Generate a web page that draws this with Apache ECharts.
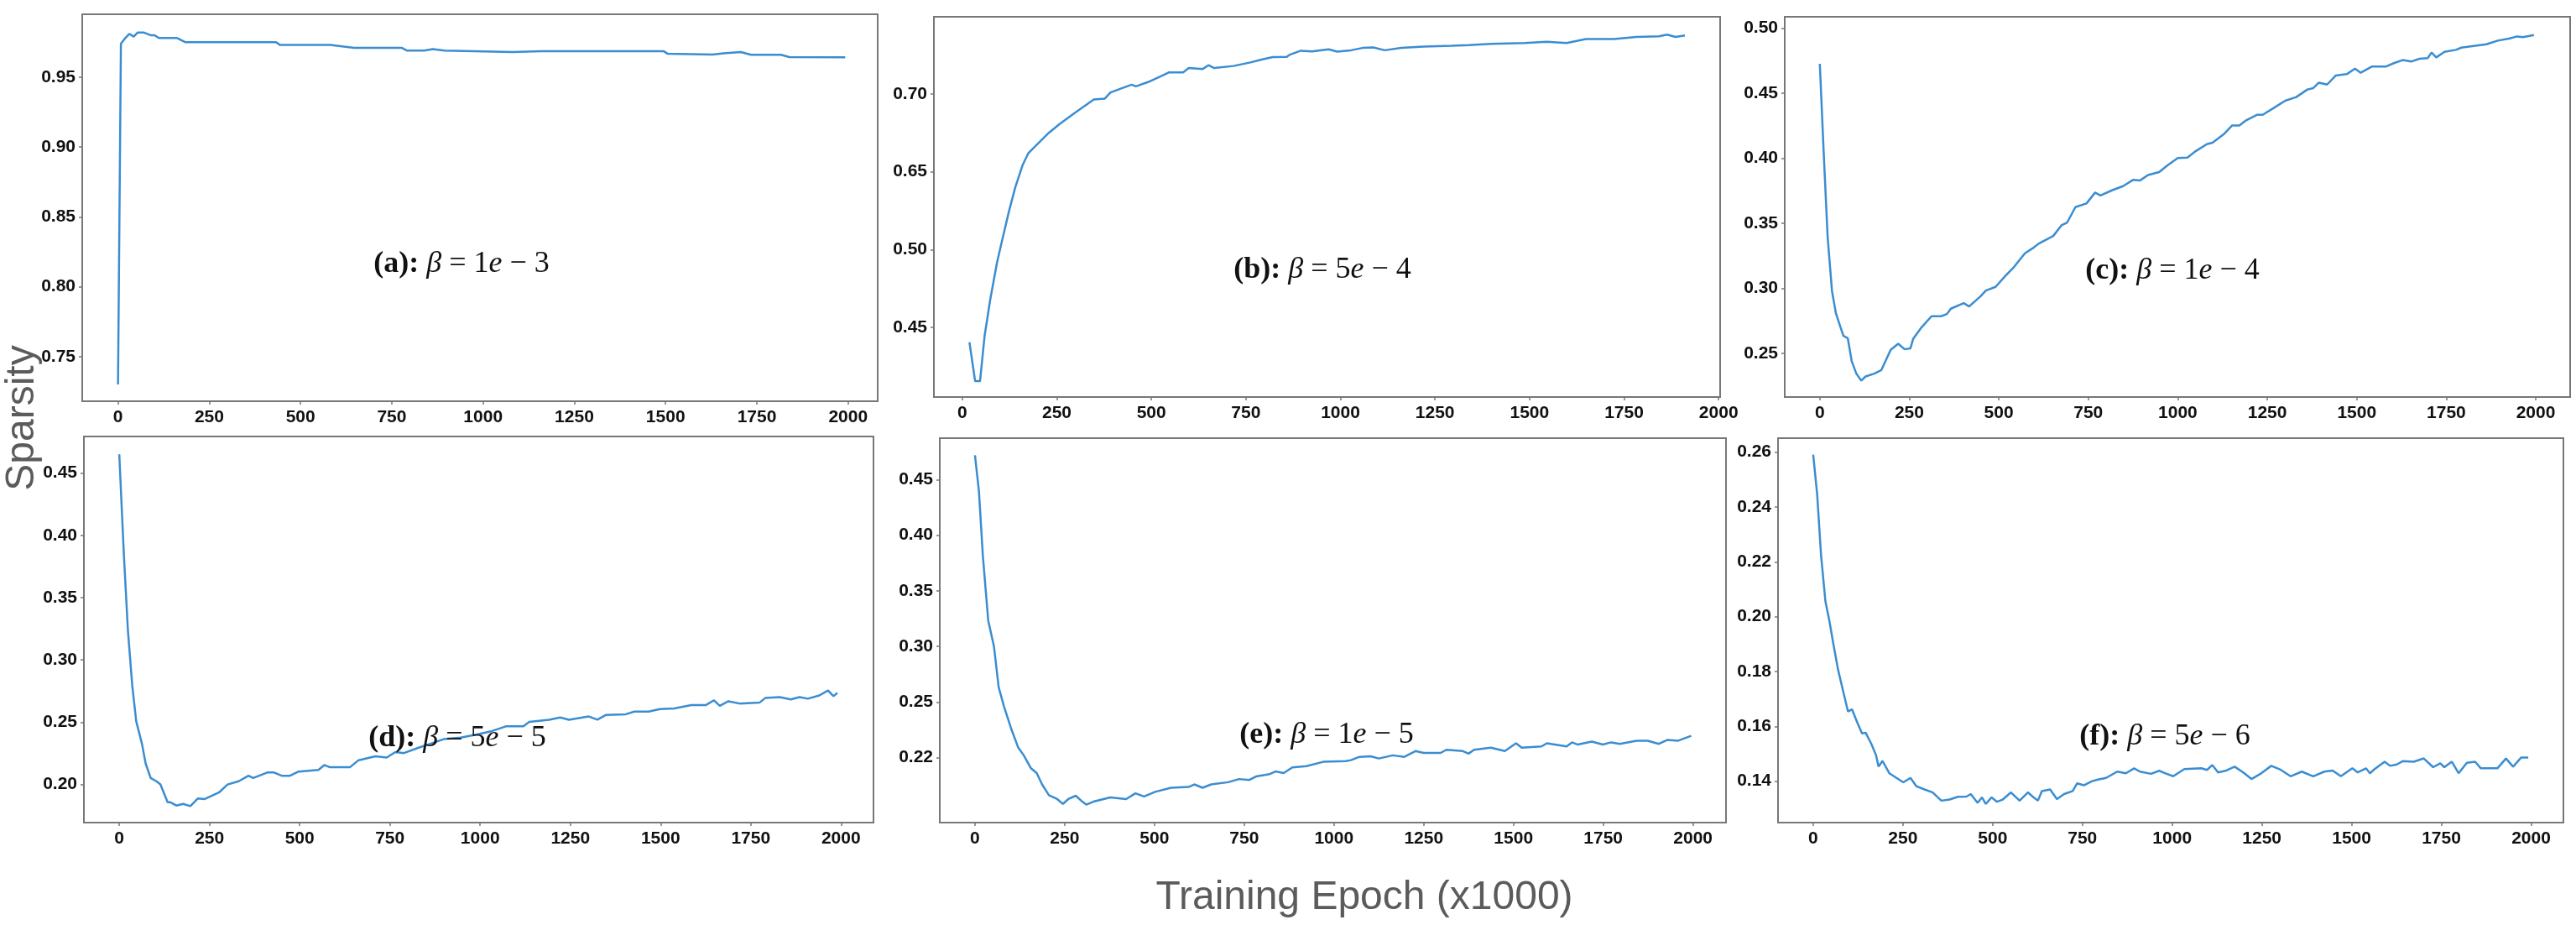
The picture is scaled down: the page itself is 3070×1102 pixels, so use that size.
<!DOCTYPE html>
<html>
<head>
<meta charset="utf-8">
<title>Sparsity vs training epoch</title>
<script src="https://cdn.jsdelivr.net/npm/echarts@6/dist/echarts.min.js"></script>
<style>
  html, body { margin: 0; padding: 0; background: #fff; }
  #chart { width: 3070px; height: 1102px; }
</style>
</head>
<body>
<div id="chart"></div>
<script>
// --- Data ---

const xTicks = [0, 250, 500, 750, 1000, 1250, 1500, 1750, 2000];

// (a) beta = 1e-3
const epochA = [0, 8, 20, 31, 43, 54, 70, 89, 100, 112, 162, 185, 433, 444, 581, 647, 777, 792, 839, 862, 894, 1081, 1159, 1495, 1506, 1628, 1659, 1706, 1734, 1816, 1839, 1992];
const sparsityA = [0.730, 0.974, 0.978, 0.981, 0.979, 0.982, 0.982, 0.980, 0.980, 0.978, 0.978, 0.975, 0.975, 0.973, 0.973, 0.971, 0.971, 0.969, 0.969, 0.970, 0.969, 0.968, 0.9685, 0.9685, 0.9667, 0.9662, 0.967, 0.968, 0.966, 0.966, 0.9644, 0.9642];
const yTicksA = [0.75, 0.80, 0.85, 0.90, 0.95];

// (b) beta = 5e-4 (the printed axis is not linear: 0.45, 0.50, 0.65, 0.70 are evenly spaced)
const epochB = [19, 34, 47, 59, 74, 92, 104, 123, 140, 160, 175, 200, 229, 256, 296, 348, 377, 392, 422, 448, 459, 496, 525, 547, 584, 599, 636, 651, 666, 717, 762, 791, 821, 858, 865, 895, 925, 969, 991, 1028, 1058, 1087, 1117, 1161, 1220, 1294, 1339, 1398, 1487, 1546, 1598, 1649, 1723, 1783, 1842, 1864, 1886, 1911];
const sparsityB = [0.4405, 0.4155, 0.4155, 0.4445, 0.468, 0.4918, 0.5134, 0.5723, 0.6195, 0.6545, 0.662, 0.668, 0.675, 0.6804, 0.6875, 0.6964, 0.697, 0.7009, 0.7036, 0.7059, 0.7048, 0.708, 0.7113, 0.7138, 0.7138, 0.7166, 0.716, 0.7184, 0.7166, 0.7179, 0.7202, 0.722, 0.7236, 0.7238, 0.725, 0.7277, 0.7273, 0.7286, 0.7271, 0.728, 0.7295, 0.7298, 0.728, 0.7295, 0.7304, 0.7309, 0.7313, 0.7321, 0.7327, 0.7334, 0.7327, 0.7352, 0.7352, 0.7366, 0.737, 0.738, 0.7366, 0.7375];
const yTicksB = [0.45, 0.50, 0.65, 0.70];

// (c) beta = 1e-4
const epochC = [0, 11, 22, 34, 45, 58, 66, 78, 89, 102, 116, 128, 152, 172, 198, 219, 237, 253, 261, 284, 312, 339, 355, 366, 402, 417, 448, 464, 491, 519, 542, 573, 597, 612, 652, 675, 691, 714, 745, 769, 784, 816, 847, 875, 894, 917, 948, 972, 1000, 1027, 1050, 1081, 1097, 1128, 1152, 1172, 1191, 1222, 1237, 1269, 1300, 1331, 1362, 1378, 1394, 1417, 1441, 1472, 1495, 1511, 1542, 1581, 1605, 1628, 1652, 1675, 1698, 1709, 1722, 1745, 1777, 1792, 1831, 1862, 1894, 1925, 1948, 1964, 1995];
const sparsityC = [0.4725, 0.4032, 0.3386, 0.2978, 0.2806, 0.2698, 0.2633, 0.2616, 0.2440, 0.2343, 0.2289, 0.2321, 0.2343, 0.2371, 0.2526, 0.2573, 0.2530, 0.2537, 0.2612, 0.2698, 0.2784, 0.2784, 0.2801, 0.2842, 0.2885, 0.2859, 0.2935, 0.2982, 0.3010, 0.3096, 0.3161, 0.3268, 0.3311, 0.3343, 0.3401, 0.3483, 0.3505, 0.3623, 0.3651, 0.3735, 0.3713, 0.3752, 0.3784, 0.3832, 0.3827, 0.3870, 0.3892, 0.3946, 0.4000, 0.4004, 0.4053, 0.4107, 0.4118, 0.4182, 0.4251, 0.4251, 0.4290, 0.4333, 0.4333, 0.4387, 0.4441, 0.4469, 0.4527, 0.4537, 0.4580, 0.4565, 0.4634, 0.4645, 0.4688, 0.4656, 0.4703, 0.4703, 0.4731, 0.4753, 0.4742, 0.4763, 0.4768, 0.4811, 0.4774, 0.4817, 0.4832, 0.4849, 0.4864, 0.4875, 0.4903, 0.4918, 0.4935, 0.4929, 0.4946];
const yTicksC = [0.25, 0.30, 0.35, 0.40, 0.45, 0.50];

// (d) beta = 5e-5
const epochD = [0, 13, 24, 36, 47, 63, 73, 87, 103, 114, 134, 142, 158, 177, 197, 218, 237, 276, 300, 331, 358, 371, 410, 429, 450, 473, 497, 552, 568, 584, 639, 663, 710, 741, 765, 789, 828, 860, 899, 946, 994, 1033, 1073, 1120, 1136, 1191, 1222, 1246, 1301, 1325, 1349, 1404, 1427, 1467, 1498, 1538, 1585, 1625, 1648, 1664, 1688, 1719, 1774, 1790, 1830, 1861, 1885, 1908, 1940, 1964, 1979, 1990];
const sparsityD = [0.4651, 0.3832, 0.3234, 0.2793, 0.2507, 0.2325, 0.2169, 0.2052, 0.2026, 0.2000, 0.1857, 0.1857, 0.1831, 0.1844, 0.1826, 0.1888, 0.1883, 0.1935, 0.2000, 0.2026, 0.2070, 0.2052, 0.2096, 0.2096, 0.2070, 0.2070, 0.2104, 0.2117, 0.2156, 0.2138, 0.2138, 0.2195, 0.2226, 0.2216, 0.2260, 0.2252, 0.2294, 0.2325, 0.2364, 0.2377, 0.2403, 0.2429, 0.2468, 0.2468, 0.2502, 0.2520, 0.2538, 0.2520, 0.2546, 0.2520, 0.2559, 0.2564, 0.2585, 0.2585, 0.2606, 0.2611, 0.2637, 0.2637, 0.2676, 0.2632, 0.2668, 0.2650, 0.2657, 0.2694, 0.2702, 0.2683, 0.2702, 0.2689, 0.2715, 0.2754, 0.2709, 0.2735];
const yTicksD = [0.20, 0.25, 0.30, 0.35, 0.40, 0.45];

// (e) beta = 1e-5 (bottom tick is printed 0.22, evenly spaced with the others)
const epochE = [0, 11, 22, 37, 53, 66, 81, 100, 120, 136, 156, 172, 187, 206, 229, 245, 260, 281, 296, 310, 330, 377, 421, 447, 471, 502, 546, 595, 611, 634, 658, 705, 736, 764, 783, 821, 837, 860, 884, 923, 970, 1032, 1047, 1071, 1102, 1125, 1164, 1196, 1227, 1250, 1297, 1313, 1359, 1375, 1390, 1437, 1476, 1507, 1523, 1578, 1593, 1648, 1663, 1679, 1718, 1749, 1772, 1796, 1843, 1874, 1905, 1928, 1959, 1995];
const sparsityE = [0.4720, 0.4398, 0.3814, 0.3231, 0.2998, 0.2633, 0.2475, 0.2361, 0.2256, 0.2212, 0.2142, 0.2116, 0.2055, 0.1997, 0.1976, 0.1950, 0.1976, 0.1994, 0.1967, 0.1946, 0.1962, 0.1985, 0.1976, 0.2007, 0.1990, 0.2015, 0.2037, 0.2041, 0.2055, 0.2037, 0.2055, 0.2067, 0.2084, 0.2079, 0.2098, 0.2111, 0.2125, 0.2116, 0.2147, 0.2154, 0.2177, 0.2181, 0.2186, 0.2204, 0.2207, 0.2195, 0.2212, 0.2204, 0.2235, 0.2225, 0.2225, 0.2242, 0.2235, 0.2221, 0.2242, 0.2253, 0.2235, 0.2277, 0.2253, 0.2260, 0.2277, 0.2260, 0.2282, 0.2270, 0.2286, 0.2270, 0.2282, 0.2274, 0.2291, 0.2291, 0.2274, 0.2295, 0.2291, 0.2317];
const yTicksE = [0.22, 0.25, 0.30, 0.35, 0.40, 0.45];

// (f) beta = 5e-6
const epochF = [0, 11, 22, 34, 45, 56, 69, 84, 97, 108, 123, 136, 146, 162, 175, 182, 193, 212, 232, 251, 271, 287, 310, 333, 357, 380, 403, 427, 439, 458, 470, 481, 497, 512, 528, 551, 575, 598, 614, 626, 637, 660, 679, 699, 723, 735, 754, 777, 793, 816, 847, 871, 894, 910, 941, 964, 980, 1003, 1034, 1081, 1097, 1112, 1128, 1151, 1174, 1198, 1221, 1245, 1276, 1299, 1330, 1361, 1393, 1424, 1447, 1470, 1502, 1517, 1540, 1551, 1564, 1592, 1607, 1626, 1642, 1673, 1701, 1727, 1747, 1758, 1779, 1798, 1821, 1844, 1860, 1906, 1930, 1950, 1972, 1992];
const sparsityF = [0.2591, 0.2446, 0.2222, 0.2056, 0.1985, 0.1902, 0.1808, 0.1725, 0.1654, 0.1662, 0.1613, 0.1574, 0.1577, 0.1536, 0.1495, 0.1453, 0.1474, 0.1429, 0.1412, 0.1396, 0.1412, 0.1382, 0.1370, 0.1359, 0.1329, 0.1333, 0.1343, 0.1344, 0.1353, 0.1321, 0.1341, 0.1317, 0.1341, 0.1325, 0.1333, 0.1359, 0.1329, 0.1359, 0.1341, 0.1329, 0.1364, 0.1370, 0.1335, 0.1353, 0.1364, 0.1392, 0.1385, 0.1400, 0.1406, 0.1412, 0.1435, 0.1429, 0.1447, 0.1435, 0.1427, 0.1438, 0.1429, 0.1418, 0.1444, 0.1447, 0.1441, 0.1459, 0.1432, 0.1439, 0.1453, 0.1432, 0.1408, 0.1426, 0.1456, 0.1444, 0.1418, 0.1435, 0.1418, 0.1435, 0.1439, 0.1418, 0.1447, 0.1432, 0.1447, 0.1429, 0.1444, 0.1471, 0.1456, 0.1461, 0.1473, 0.1471, 0.1483, 0.1451, 0.1465, 0.1451, 0.1471, 0.1429, 0.1467, 0.1471, 0.1447, 0.1447, 0.1483, 0.1453, 0.1486, 0.1486];
const yTicksF = [0.14, 0.16, 0.18, 0.20, 0.22, 0.24, 0.26];

// --- Layout of the six panels (pixels) and axis extents ---

const panels = [
    { tag: 'a', exp: '1', pow: '3', x: epochA, y: sparsityA, ticks: yTicksA, xr: [-98, 2081], yr: [0.718, 0.995], box: [98, 17, 948, 461], text: [550, 315] },
    { tag: 'b', exp: '5', pow: '4', x: epochB, y: sparsityB, ticks: yTicksB, xr: [-75, 2004], yr: [0.4053, 0.7495], box: [1113, 20, 937, 453], text: [1576, 322] },
    { tag: 'c', exp: '1', pow: '4', x: epochC, y: sparsityC, ticks: yTicksC, xr: [-98, 2096], yr: [0.2163, 0.5086], box: [2127, 20, 936, 453], text: [2589, 323] },
    { tag: 'd', exp: '5', pow: '5', x: epochD, y: sparsityD, ticks: yTicksD, xr: [-98, 2090], yr: [0.1694, 0.4794], box: [100, 520, 941, 460], text: [545, 880] },
    { tag: 'e', exp: '1', pow: '5', x: epochE, y: sparsityE, ticks: yTicksE, xr: [-98, 2092], yr: [0.1849, 0.4873], box: [1120, 522, 937, 458], text: [1581, 876] },
    { tag: 'f', exp: '5', pow: '6', x: epochF, y: sparsityF, ticks: yTicksF, xr: [-98, 2090], yr: [0.1249, 0.2651], box: [2119, 522, 936, 458], text: [2580, 878] }
];

const LINE_COLOR = '#3a8dd1';
const SPINE_COLOR = '#777777';
const LABEL_FONT = 'Liberation Sans, Arial, sans-serif';
const SERIF_FONT = 'Liberation Serif, Times New Roman, serif';

// Map a value onto the printed tick positions (piecewise linear between ticks)
const warp = (v, ticks) => {
    const n = ticks.length;
    if (v <= ticks[0]) return (v - ticks[0]) / (ticks[1] - ticks[0]);
    if (v >= ticks[n - 1]) return n - 1 + (v - ticks[n - 1]) / (ticks[n - 1] - ticks[n - 2]);
    for (let i = 0; i < n - 1; i++) {
        if (v <= ticks[i + 1]) return i + (v - ticks[i]) / (ticks[i + 1] - ticks[i]);
    }
    return n - 1;
};

const chart = echarts.init(document.getElementById('chart'), null, { renderer: 'canvas' });

const grids = [], xAxes = [], yAxes = [], series = [], graphics = [];

panels.forEach((p, i) => {
    grids.push({
        left: p.box[0], top: p.box[1], width: p.box[2], height: p.box[3],
        show: true, borderColor: SPINE_COLOR, borderWidth: 2, backgroundColor: '#fff',
        containLabel: false
    });
    xAxes.push({
        type: 'value', gridIndex: i, min: p.xr[0], max: p.xr[1],
        axisLine: { show: false, onZero: false },
        splitLine: { show: false },
        axisTick: { show: true, length: 4, customValues: xTicks, lineStyle: { color: SPINE_COLOR, width: 1.5 } },
        axisLabel: {
            customValues: xTicks, margin: 9, fontSize: 21, fontWeight: 'bold',
            fontFamily: LABEL_FONT, color: '#111',
            formatter: (v) => String(Math.round(v))
        }
    });
    const tickIdx = p.ticks.map((_, k) => k);
    yAxes.push({
        type: 'value', gridIndex: i,
        min: warp(p.yr[0], p.ticks), max: warp(p.yr[1], p.ticks),
        axisLine: { show: false, onZero: false },
        splitLine: { show: false },
        axisTick: { show: true, length: 4, customValues: tickIdx, lineStyle: { color: SPINE_COLOR, width: 1.5 } },
        axisLabel: {
            customValues: tickIdx, margin: 8, fontSize: 21, fontWeight: 'bold',
            fontFamily: LABEL_FONT, color: '#111',
            formatter: (v) => {
                const t = p.ticks[Math.round(v)];
                return t === undefined ? '' : t.toFixed(2);
            }
        }
    });
    series.push({
        type: 'line', xAxisIndex: i, yAxisIndex: i,
        data: p.x.map((e, k) => [e, warp(p.y[k], p.ticks)]),
        showSymbol: false, symbol: 'none', clip: true,
        lineStyle: { color: LINE_COLOR, width: 2.5 },
        z: 2
    });
    graphics.push({
        type: 'text', x: p.text[0], y: p.text[1], z: 100,
        style: {
            text: `{b|(${p.tag}):} {i|β} = ${p.exp}{i|e} − ${p.pow}`,
            font: `36px ${SERIF_FONT}`,
            fill: '#111',
            textAlign: 'center', textVerticalAlign: 'middle',
            rich: {
                b: { fontWeight: 'bold', fontSize: 36, fontFamily: SERIF_FONT, color: '#111' },
                i: { fontStyle: 'italic', fontSize: 36, fontFamily: SERIF_FONT, color: '#111' }
            }
        }
    });
});

graphics.push({
    type: 'text', x: 27, y: 498, rotation: Math.PI / 2, z: 100,
    style: {
        text: 'Sparsity', font: `48px ${LABEL_FONT}`, fill: '#5b5b5b',
        textAlign: 'center', textVerticalAlign: 'middle'
    }
});
graphics.push({
    type: 'text', x: 1626, y: 1070, z: 100,
    style: {
        text: 'Training Epoch (x1000)', font: `48px ${LABEL_FONT}`, fill: '#5b5b5b',
        textAlign: 'center', textVerticalAlign: 'middle'
    }
});

chart.setOption({
    animation: false,
    backgroundColor: '#fff',
    grid: grids,
    xAxis: xAxes,
    yAxis: yAxes,
    series: series,
    graphic: graphics
});
</script>
</body>
</html>
